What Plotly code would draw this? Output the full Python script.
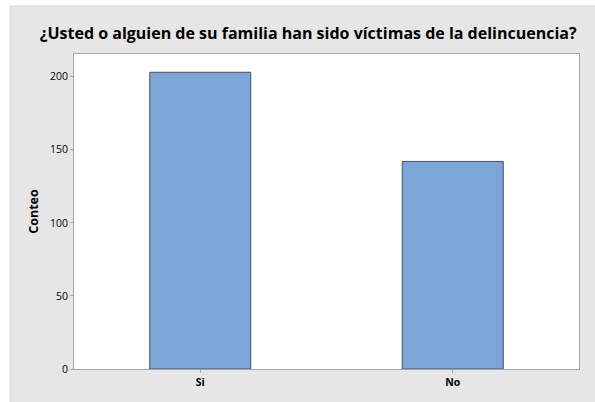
import plotly.graph_objects as go

categories = ["Si", "No"]
counts = [203, 142]
y_ticks = [0, 50, 100, 150, 200]

W, H = 595, 402
L, R, T, B = 74, 16, 54, 33
pw, ph = W - L - R, H - T - B

fig = go.Figure()
fig.add_trace(go.Bar(
    x=categories, y=counts, width=0.4,
    marker=dict(color="#7ca6d8", line=dict(color="#4a4f57", width=1)),
))
fig.update_layout(
    width=W, height=H,
    margin=dict(l=L, r=R, t=T, b=B),
    paper_bgcolor="white", plot_bgcolor="white",
    showlegend=False,
    font=dict(family="Open Sans, Noto Sans, sans-serif", color="#000000"),
    title=dict(text="<b>¿Usted o alguien de su familia han sido víctimas de la delincuencia?</b>",
               x=0.518, xanchor="center", y=1 - 33 / H, yanchor="middle",
               font=dict(size=16, color="#000000")),
    shapes=[
        dict(type="rect", xref="paper", yref="paper", layer="below",
             x0=-(L - 10) / pw, x1=1 + R / pw + 0.02, y0=-B / ph - 0.02, y1=1 + (T - 6) / ph,
             fillcolor="#e6e6e6", line=dict(color="#d9d9d9", width=1)),
        dict(type="rect", xref="paper", yref="paper", layer="below",
             x0=0, x1=1, y0=0, y1=1,
             fillcolor="white", line=dict(width=0)),
    ],
)
fig.update_xaxes(range=[-0.5, 1.5], showline=True, linecolor="#a6a6a6", linewidth=1, mirror=True,
                 ticks="outside", ticklen=3, tickcolor="#a6a6a6",
                 tickfont=dict(size=10.5),
                 tickprefix="<b>", ticksuffix="</b>", showgrid=False)
fig.update_yaxes(range=[0, 215.5], tickvals=y_ticks, showline=True, linecolor="#a6a6a6", linewidth=1,
                 mirror=True, ticks="outside", ticklen=3, tickcolor="#a6a6a6",
                 tickfont=dict(size=10.5), tickprefix="<b>", ticksuffix="</b>",
                 showgrid=False, zeroline=False,
                 title=dict(text="<b>Conteo</b>", font=dict(size=12.5), standoff=8))
fig.write_html("out.html", config={"displayModeBar": False},
               post_script="document.body.style.margin='0';document.body.style.padding='0';")
